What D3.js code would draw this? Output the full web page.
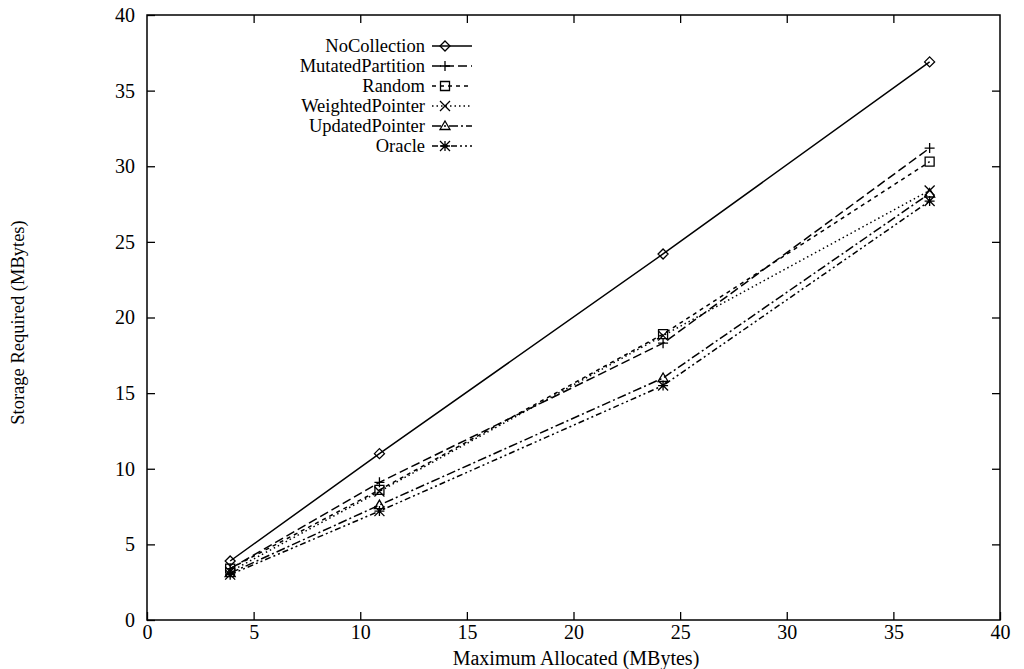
<!DOCTYPE html>
<html><head><meta charset="utf-8">
<script src="https://cdn.jsdelivr.net/npm/d3@7"></script>
<style>body{margin:0;background:#fff}svg{display:block}svg text{font-family:"Liberation Serif","Times New Roman",Times,"DejaVu Serif",serif !important;fill:#000}</style>
</head><body><svg id="c" width="1024" height="669"></svg>
<script>
const xValues = [3.9, 10.9, 24.2, 36.7];
const seriesNames = ["NoCollection","MutatedPartition","Random","WeightedPointer","UpdatedPointer","Oracle"];
const noCollection = [3.9, 11.0, 24.2, 36.9];
const mutatedPartition = [3.4, 9.1, 18.3, 31.2];
const random = [3.4, 8.6, 18.9, 30.3];
const weightedPointer = [3.2, 8.5, 18.8, 28.4];
const updatedPointer = [3.1, 7.6, 16.0, 28.2];
const oracle = [3.0, 7.2, 15.5, 27.7];
const xTicks = [0,5,10,15,20,25,30,35,40];
const yTicks = [0,5,10,15,20,25,30,35,40];

const seriesValues = [noCollection, mutatedPartition, random, weightedPointer, updatedPointer, oracle];
const dashes = [null, "9,4", "4,4", "1.5,3", "9,3,2,3", "6,3,2,3,2,3"];
const markers = ["diamond","plus","square","cross","triangle","asterisk"];
const FONT = '"Liberation Serif","Times New Roman",Times,"DejaVu Serif",serif';

const svg = d3.select("#c");
const L=147, R=1000, T=15, B=620;
const x = d3.scaleLinear().domain([0,40]).range([L,R]);
const y = d3.scaleLinear().domain([0,40]).range([B,T]);

svg.append("rect").attr("x",L).attr("y",T).attr("width",R-L).attr("height",B-T)
  .attr("fill","none").attr("stroke","#000").attr("stroke-width",1.5);

const ax = svg.append("g").attr("transform",`translate(0,${B})`)
  .call(d3.axisBottom(x).tickValues(xTicks).tickSize(-8).tickPadding(8).tickFormat(d3.format("d")));
const axTop = svg.append("g").attr("transform",`translate(0,${T})`)
  .call(d3.axisTop(x).tickValues(xTicks.slice(1,-1)).tickSize(-8).tickFormat(""));
const ay = svg.append("g").attr("transform",`translate(${L},0)`)
  .call(d3.axisLeft(y).tickValues(yTicks).tickSize(-8).tickPadding(18).tickFormat(d3.format("d")));
const ayR = svg.append("g").attr("transform",`translate(${R},0)`)
  .call(d3.axisRight(y).tickValues(yTicks.slice(1,-1)).tickSize(-8).tickFormat(""));
[ax,axTop,ay,ayR].forEach(g=>{
  g.attr("font-family",FONT);
  g.select(".domain").remove();
  g.selectAll(".tick line").attr("stroke","#000").attr("stroke-width",1.3);
  g.selectAll(".tick text").attr("font-size",20).style("font-family",FONT).attr("fill","#000");
});
ax.selectAll(".tick text").attr("y",5);
ay.selectAll(".tick text").attr("x",-12);

svg.append("text").attr("x",576).attr("y",665).attr("text-anchor","middle").attr("font-size",20)
  .style("font-family",FONT).text("Maximum Allocated (MBytes)");
svg.append("text").attr("transform",`translate(24,${(T+B)/2+5}) rotate(-90)`).attr("text-anchor","middle").attr("font-size",18.5)
  .style("font-family",FONT).text("Storage Required (MBytes)");

function drawMarker(g, type, cx, cy){
  const s=5;
  const p = g.append("path").attr("fill","none").attr("stroke","#000").attr("stroke-width",1.3);
  let d="";
  if(type==="diamond") d=`M${cx},${cy-s}L${cx+s},${cy}L${cx},${cy+s}L${cx-s},${cy}Z`;
  if(type==="plus") d=`M${cx-s},${cy}H${cx+s}M${cx},${cy-s}V${cy+s}`;
  if(type==="square") d=`M${cx-s+0.5},${cy-s+0.5}h${2*s-1}v${2*s-1}h${-(2*s-1)}Z`;
  if(type==="cross") d=`M${cx-s},${cy-s}L${cx+s},${cy+s}M${cx-s},${cy+s}L${cx+s},${cy-s}`;
  if(type==="triangle") d=`M${cx},${cy-s}L${cx+s},${cy+s*0.7}L${cx-s},${cy+s*0.7}Z`;
  if(type==="asterisk") d=`M${cx-s},${cy}H${cx+s}M${cx},${cy-s}V${cy+s}M${cx-s},${cy-s}L${cx+s},${cy+s}M${cx-s},${cy+s}L${cx+s},${cy-s}`;
  p.attr("d",d);
}

const line = d3.line().x(d=>x(d[0])).y(d=>y(d[1]));
seriesValues.forEach((vals,i)=>{
  const pts = xValues.map((xv,j)=>[xv,vals[j]]);
  svg.append("path").attr("d",line(pts)).attr("fill","none").attr("stroke","#000")
    .attr("stroke-width",1.5).attr("stroke-dasharray",dashes[i]);
  const g = svg.append("g");
  pts.forEach(p=>drawMarker(g, markers[i], x(p[0]), y(p[1])));
});

const legX=425, legY0=46, legDy=20;
seriesNames.forEach((n,i)=>{
  const yy = legY0 + i*legDy;
  svg.append("text").attr("x",legX).attr("y",yy).attr("dy","0.35em").attr("text-anchor","end").attr("font-size",18.5)
    .style("font-family",FONT).text(n);
  svg.append("line").attr("x1",legX+7).attr("x2",legX+47).attr("y1",yy).attr("y2",yy)
    .attr("stroke","#000").attr("stroke-width",1.5).attr("stroke-dasharray",dashes[i]);
  drawMarker(svg.append("g"), markers[i], legX+20, yy);
});
</script></body></html>
